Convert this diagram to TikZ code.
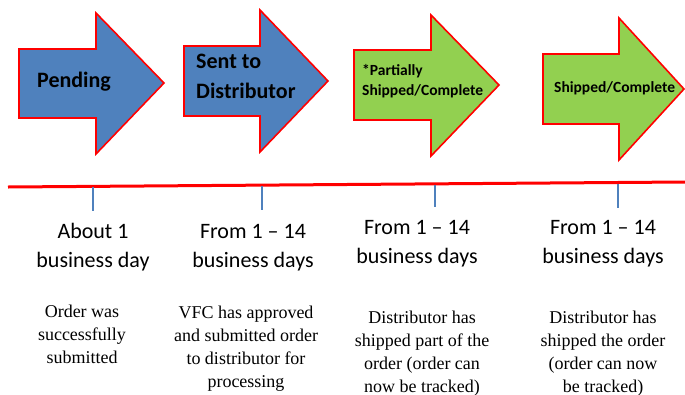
\documentclass[tikz,border=0pt]{standalone}
\usepackage{fontspec}
\setmainfont{Carlito}
\newfontfamily\descfont{Liberation Serif}
\definecolor{officeblue}{HTML}{4F81BD}
\definecolor{officegreen}{HTML}{92D050}

\tikzset{
	statusarrow/.style={draw=red, line width=1.6pt, line join=miter},
	statuslabel/.style={anchor=base west, align=left, inner sep=0pt, font=\bfseries\fontsize{22}{30}\selectfont},
	smallstatus/.style={statuslabel, font=\bfseries\fontsize{15.5}{20}\selectfont},
	daylabel/.style={anchor=base, align=center, inner sep=0pt, font=\fontsize{22}{29}\selectfont},
	desclabel/.style={anchor=base, align=center, inner sep=0pt, font=\descfont\fontsize{18}{23}\selectfont},
	daytick/.style={draw=officeblue, line width=1.2pt}
}

\begin{document}
\begin{tikzpicture}[x=1pt, y=-1pt]
		\useasboundingbox (0,0) rectangle (685,394);

		% status arrows
		\filldraw[statusarrow, fill=officeblue] (19,49) -- (96,49) -- (96,13) -- (164,83) -- (96,154) -- (96,118) -- (19,118) -- cycle;
		\filldraw[statusarrow, fill=officeblue] (184,46) -- (260,46) -- (260,10) -- (328,81) -- (260,152) -- (260,116) -- (184,116) -- cycle;
		\filldraw[statusarrow, fill=officegreen] (354,50) -- (431,50) -- (431,15) -- (499,85) -- (431,156) -- (431,120) -- (354,120) -- cycle;
		\filldraw[statusarrow, fill=officegreen] (543,54) -- (619,54) -- (619,18) -- (684,89) -- (619,160) -- (619,124) -- (543,124) -- cycle;

		% (base = last line)
		\node[statuslabel] (pending) at (37,87) {Pending};
		\node[statuslabel] (sent) at (196,98) {Sent to\\Distributor};
		\node[smallstatus] (partial) at (362,95) {*Partially\\Shipped/Complete};
		\node[smallstatus] (shipped) at (554,92) {Shipped/Complete};

		% time line
		\coordinate (L) at (8,187);
		\coordinate (R) at (685,182);
		\draw[red, line width=3pt] (L) -- (R);

		\coordinate (t1) at (93,187);
		\coordinate (t2) at (262,186);
		\coordinate (t3) at (435,185);
		\coordinate (t4) at (618,184);
		\draw[daytick] (t1) -- ++(0,24);
		\draw[daytick] (t2) -- ++(0,24);
		\draw[daytick] (t3) -- ++(0,22);
		\draw[daytick] (t4) -- ++(0,24);

		% durations
		\node[daylabel] (d1) at (93,267) {About 1\\business day};
		\node[daylabel] (d2) at (253,267) {From 1 -- 14\\business days};
		\node[daylabel] (d3) at (417,263) {From 1 -- 14\\business days};
		\node[daylabel] (d4) at (603,263) {From 1 -- 14\\business days};

		% descriptions
		\node[desclabel] (s1) at (82,363) {Order was\\successfully\\submitted};
		\node[desclabel] (s2) at (246,387) {VFC has approved\\and submitted order\\to distributor for\\processing};
		\node[desclabel] (s3) at (422,392) {Distributor has\\shipped part of the\\order (order can\\now be tracked)};
		\node[desclabel] (s4) at (603,392) {Distributor has\\shipped the order\\(order can now\\be tracked)};

	\end{tikzpicture}
\end{document}
